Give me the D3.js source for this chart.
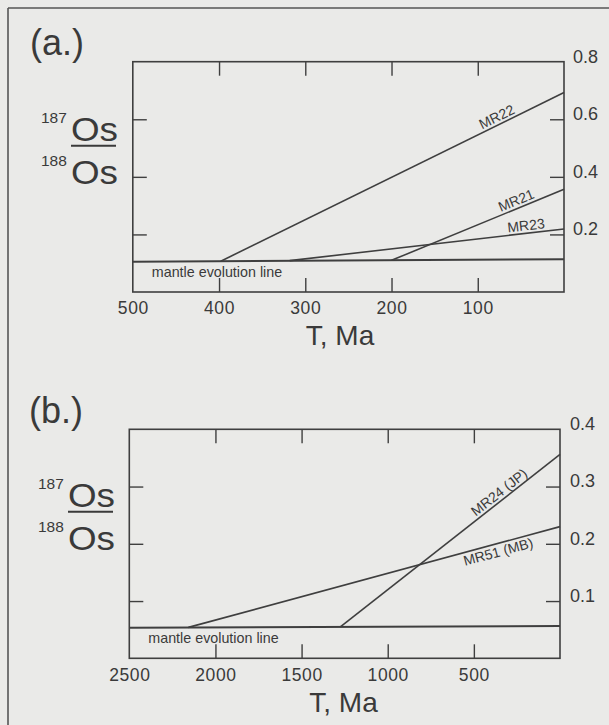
<!DOCTYPE html>
<html>
<head>
<meta charset="utf-8">
<script src="https://cdn.jsdelivr.net/npm/d3@7/dist/d3.min.js"></script>
<style>
  html, body { margin: 0; padding: 0; background: #eaeae8; }
  svg { display: block; }
  text { font-family: "Liberation Sans", Arial, Helvetica, sans-serif; fill: #3a3a3a; }
</style>
</head>
<body>
<svg id="chart" width="609" height="725"></svg>
<script>
// ---------- Panel (a) data ----------
const panelALabel = "(a.)";
const xDomainA = [500, 0];
const yDomainA = [0, 0.8];
const xTickValsA = [400, 300, 200, 100];
const xTickLabelsA = [500, 400, 300, 200, 100];
const yTickValsA = [0.2, 0.4, 0.6];
const yTickLabelsA = [0.8, 0.6, 0.4, 0.2];
const mantleA = [[500, 0.105], [0, 0.114]];
const seriesNamesA = ["MR22", "MR21", "MR23"];
const seriesA = [
  [[398, 0.107], [0, 0.693]],
  [[200, 0.110], [0, 0.357]],
  [[318, 0.109], [0, 0.219]]
];

// ---------- Panel (b) data ----------
const panelBLabel = "(b.)";
const xDomainB = [2500, 0];
const yDomainB = [0, 0.4];
const xTickValsB = [2000, 1500, 1000, 500];
const xTickLabelsB = [2500, 2000, 1500, 1000, 500];
const yTickValsB = [0.1, 0.2, 0.3];
const yTickLabelsB = [0.4, 0.3, 0.2, 0.1];
const mantleB = [[2500, 0.0535], [0, 0.0564]];
const seriesNamesB = ["MR24 (JP)", "MR51 (MB)"];
const seriesB = [
  [[1275, 0.055], [0, 0.356]],
  [[2157, 0.054], [0, 0.230]]
];

const axisTitle = "T, Ma";
const mantleText = "mantle evolution line";

// ---------- drawing ----------
const svg = d3.select("#chart");
const ink = "#3f3f3f";

// scan frame (top & left edges only visible)
svg.append("line").attr("x1", 8).attr("y1", 8).attr("x2", 609).attr("y2", 8)
  .attr("stroke", "#555").attr("stroke-width", 1.6);
svg.append("line").attr("x1", 8).attr("y1", 8).attr("x2", 8).attr("y2", 725)
  .attr("stroke", "#555").attr("stroke-width", 1.6);

function drawPanel(cfg) {
  const {left, right, top, bottom} = cfg.box;
  const x = d3.scaleLinear().domain(cfg.xDomain).range([left, right]);
  const y = d3.scaleLinear().domain(cfg.yDomain).range([bottom, top]);
  const g = svg.append("g");

  // panel letter
  g.append("text").attr("x", cfg.letterPos[0]).attr("y", cfg.letterPos[1])
    .attr("font-size", 36).text(cfg.letter);

  // box
  g.append("rect").attr("x", left).attr("y", top)
    .attr("width", right - left).attr("height", bottom - top)
    .attr("fill", "none").attr("stroke", ink).attr("stroke-width", 1.6);

  const tickLen = 14;
  const styleTicks = sel => {
    sel.select(".domain").remove();
    sel.selectAll(".tick line").attr("stroke", ink).attr("stroke-width", 1.4);
  };
  // inward ticks
  g.append("g").attr("transform", `translate(0,${bottom})`)
    .call(d3.axisBottom(x).tickValues(cfg.xTicks).tickSize(-tickLen).tickFormat(""))
    .call(styleTicks);
  g.append("g").attr("transform", `translate(0,${top})`)
    .call(d3.axisTop(x).tickValues(cfg.xTicks).tickSize(-tickLen).tickFormat(""))
    .call(styleTicks);
  g.append("g").attr("transform", `translate(${left},0)`)
    .call(d3.axisLeft(y).tickValues(cfg.yTicks).tickSize(-tickLen).tickFormat(""))
    .call(styleTicks);
  g.append("g").attr("transform", `translate(${right},0)`)
    .call(d3.axisRight(y).tickValues(cfg.yTicks).tickSize(-tickLen).tickFormat(""))
    .call(styleTicks);

  // tick labels
  const bl = g.append("g").attr("transform", `translate(0,${bottom})`)
    .call(d3.axisBottom(x).tickValues(cfg.xLabels).tickSize(0).tickPadding(10)
      .tickFormat(d3.format("d")));
  bl.select(".domain").remove();
  bl.selectAll("text").attr("font-size", 17.5).attr("fill", "#3a3a3a")
    .attr("font-family", "Liberation Sans, Arial, sans-serif").attr("letter-spacing", 0.6);
  const rl = g.append("g").attr("transform", `translate(${right},0)`)
    .call(d3.axisRight(y).tickValues(cfg.yLabels).tickSize(0).tickPadding(cfg.rightPad)
      .tickFormat(d3.format(".1f")));
  rl.select(".domain").remove();
  rl.selectAll("text").attr("font-size", 18).attr("fill", "#3a3a3a")
    .attr("font-family", "Liberation Sans, Arial, sans-serif").attr("dy", "0.02em");

  // axis title
  g.append("text").attr("x", cfg.titlePos[0]).attr("y", cfg.titlePos[1])
    .attr("text-anchor", "middle").attr("font-size", 28).text(axisTitle);

  // y-axis label 187Os / 188Os
  const yl = g.append("g").attr("transform", `translate(${cfg.ylabPos[0]},${cfg.ylabPos[1]})`);
  yl.append("text").attr("x", 0).attr("y", 0).attr("font-size", 15.5).text("187");
  yl.append("text").attr("x", 30).attr("y", 17.5).attr("font-size", 33)
    .attr("textLength", 47).attr("lengthAdjust", "spacingAndGlyphs").text("Os");
  yl.append("line").attr("x1", 30).attr("x2", 75).attr("y1", 22.7).attr("y2", 22.7)
    .attr("stroke", "#3a3a3a").attr("stroke-width", 2);
  yl.append("text").attr("x", 0).attr("y", 42.7).attr("font-size", 15.5).text("188");
  yl.append("text").attr("x", 30).attr("y", 61).attr("font-size", 33)
    .attr("textLength", 47).attr("lengthAdjust", "spacingAndGlyphs").text("Os");

  const line = d3.line().x(d => x(d[0])).y(d => y(d[1]));
  // mantle line
  g.append("path").datum(cfg.mantle).attr("d", line)
    .attr("fill", "none").attr("stroke", ink).attr("stroke-width", 2);
  g.append("text").attr("x", left + 19).attr("y", y(cfg.mantle[0][1]) + 15)
    .attr("font-size", 14.3).text(mantleText);

  // series
  cfg.series.forEach((s, i) => {
    g.append("path").datum(s).attr("d", line)
      .attr("fill", "none").attr("stroke", ink).attr("stroke-width", 1.6);
    const lab = cfg.labelAt[i];
    const px = x(lab.t);
    const p0 = [x(s[0][0]), y(s[0][1])], p1 = [x(s[1][0]), y(s[1][1])];
    const slope = (p1[1] - p0[1]) / (p1[0] - p0[0]);
    const py = p0[1] + (px - p0[0]) * slope;
    const ang = Math.atan(slope) * 180 / Math.PI;
    g.append("text")
      .attr("transform", `translate(${px},${py}) rotate(${ang})`)
      .attr("x", 0).attr("y", lab.off)
      .attr("text-anchor", "middle").attr("font-size", 14)
      .text(cfg.names[i]);
  });
}

drawPanel({
  box: {left: 132.8, right: 564, top: 61.7, bottom: 292},
  xDomain: xDomainA, yDomain: yDomainA,
  xTicks: xTickValsA, xLabels: xTickLabelsA,
  yTicks: yTickValsA, yLabels: yTickLabelsA,
  mantle: mantleA, series: seriesA, names: seriesNamesA,
  labelAt: [{t: 74, off: -3}, {t: 52, off: -3}, {t: 43, off: -3}],
  letter: panelALabel, letterPos: [30, 55],
  titlePos: [340, 345],
  ylabPos: [41, 123],
  rightPad: 9
});

drawPanel({
  box: {left: 129.3, right: 560, top: 429.3, bottom: 658.3},
  xDomain: xDomainB, yDomain: yDomainB,
  xTicks: xTickValsB, xLabels: xTickLabelsB,
  yTicks: yTickValsB, yLabels: yTickLabelsB,
  mantle: mantleB, series: seriesB, names: seriesNamesB,
  labelAt: [{t: 325, off: -3}, {t: 371, off: 13}],
  letter: panelBLabel, letterPos: [29, 423],
  titlePos: [343.5, 712],
  ylabPos: [38, 489],
  rightPad: 10
});
</script>
</body>
</html>
